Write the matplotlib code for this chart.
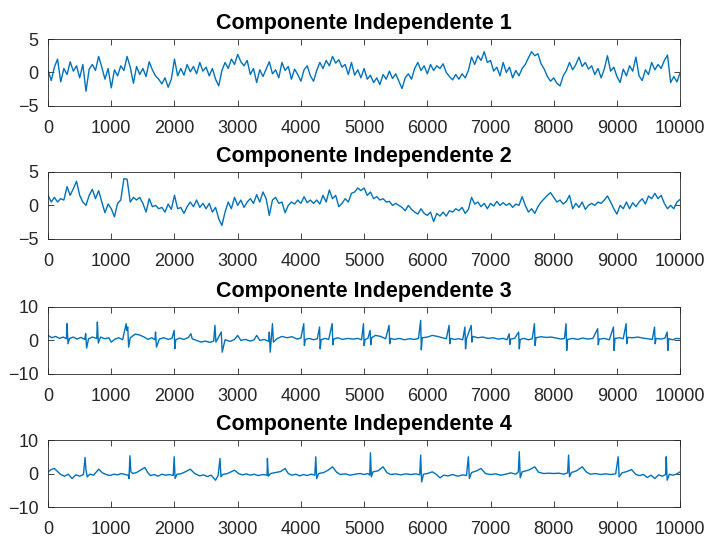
import numpy as np
import matplotlib
matplotlib.use('Agg')
import matplotlib.pyplot as plt

# Independent components, component 1 and 2 sampled every 50 points
step = 50
ic1 = [0.3, -1.2, 0.8, 2.0, -1.4, 0.6, -0.3, 1.6, 0.2, 1.0,
       -0.8, 1.2, -2.8, 0.5, 1.2, 0.3, 2.4, 0.8, -1.0, 0.6,
       -2.3, 0.4, -0.5, 1.0, 0.3, 2.4, 0.8, -1.6, 0.9, -0.3,
       0.6, -0.6, 1.6, 0.4, -0.5, -1.0, -1.7, -0.8, -2.2, -1.0,
       2.0, -0.5, 0.6, -0.4, 1.2, 0.1, 0.9, -0.2, 1.5, 0.2,
       0.8, -0.5, 0.6, -1.0, -2.0, 0.3, 1.5, 0.6, 2.0, 1.2,
       2.7, 1.6, 1.0, 1.8, -0.3, 0.6, -1.5, 0.4, -0.6, 0.5,
       1.6, -0.2, 0.4, -0.8, 1.5, 0.3, 0.9, -1.0, 0.5, -0.3,
       -1.3, 0.4, 1.0, -0.5, -1.3, 0.3, 1.5, 0.6, 1.8, 1.0,
       2.4, 1.4, 1.9, 0.8, 1.2, -0.3, 1.5, -0.4, 0.4, -0.8,
       0.6, -1.0, -0.4, -1.5, -0.8, -1.8, -0.3, -1.0, 0.2, -0.9,
       -0.2, -1.3, -2.4, -0.8, -0.2, -1.0, 0.6, 1.5, 0.3, 1.0,
       -0.2, 1.2, 0.3, 1.0, 0.6, 1.3, 0.0, -0.6, -1.1, -0.3,
       -1.0, -0.2, -0.8, 0.3, 2.3, 1.2, 2.5, 1.8, 3.1, 1.5,
       1.8, 0.2, 0.8, -0.5, 1.5, 0.0, 0.8, -0.8, 0.3, -0.5,
       0.6, 1.2, 2.2, 3.1, 2.5, 2.8, 1.3, 0.5, -0.6, -1.3,
       -0.8, -1.6, -2.0, -0.5, 0.3, 1.5, 0.4, 1.2, 2.3, 0.9,
       1.5, 0.5, 1.0, -0.3, 0.6, -0.8, 0.5, 2.5, 0.2, 0.8,
       -0.6, -1.5, 0.5, -0.5, 1.0, 0.2, 2.3, -0.5, -1.2, 0.4,
       -0.3, 1.5, 0.4, 1.2, 0.6, 1.8, 2.6, -1.5, -0.6, -1.4,
       0.0]

ic2 = [1.5, 0.5, 1.2, 0.5, 1.0, 0.8, 2.8, 1.5, 2.5, 3.6,
       1.5, 0.5, 0.0, 1.5, 2.4, 1.0, 2.2, 0.5, -1.1, 0.2,
       -0.5, -1.7, 0.3, 0.8, 4.0, 3.9, 0.5, 1.2, 0.8, 1.2,
       0.3, -1.0, 1.0, -0.2, 0.0, -0.5, -0.3, -1.0, 0.2, -0.6,
       1.5, -0.5, -0.3, -1.2, -0.2, 0.5, -0.2, 0.8, -0.3, 0.3,
       -0.5, 0.3, -1.0, -0.3, -2.0, -3.0, -1.0, 0.5, -0.5, 1.2,
       0.0, 0.8, -0.3, 0.5, 1.0, 0.3, 1.6, 0.5, 2.0, 1.0,
       -1.5, 0.8, 1.2, 0.3, 0.5, -1.1, 0.0, 0.5, 0.2, 0.8,
       0.3, 1.3, 0.4, 0.8, 0.3, 0.8, 0.2, 1.5, 0.5, 2.3,
       1.0, 1.5, -0.2, 0.3, 1.0, 0.5, 1.8, 2.0, 2.6, 2.2,
       2.6, 1.5, 2.0, 1.0, 1.3, 0.8, 1.0, 0.5, 0.6, 0.0,
       0.3, 0.0, -0.3, -0.8, 0.0, -0.6, -1.0, -1.3, -0.5, -1.2,
       -1.5, -1.0, -2.4, -1.2, -1.6, -1.0, -1.6, -0.8, -1.0, -0.5,
       -0.8, -0.3, -1.2, -0.6, 1.2, 0.2, 0.5, -0.2, 0.3, -0.5,
       0.3, -0.1, 0.6, 0.0, 0.4, 0.0, 0.3, -0.3, 0.2, 0.0,
       1.3, 0.0, -1.0, -0.5, -1.2, -0.2, 0.5, 1.0, 1.5, 1.9,
       1.2, 0.5, 0.8, 0.2, 0.6, 1.5, -0.5, 0.3, -0.3, 0.5,
       -0.6, 0.0, 0.3, 0.0, 0.5, 0.3, 0.8, 1.4, 0.5, -0.5,
       -1.3, 0.0, -0.5, 0.5, -0.5, 0.4, -0.2, 0.5, 1.0, 0.2,
       1.4, 1.0, 1.8, 1.0, 1.5, 0.3, -0.5, 0.0, -0.5, 0.5,
       0.9]

# Components 3 and 4: spiky signals, kept as (sample, value) breakpoints
ic3_t = [0, 60, 120, 180, 240, 290, 300, 315, 340, 400,
         460, 520, 580, 595, 610, 640, 700, 770, 780, 795,
         830, 900, 960, 1000, 1060, 1120, 1180, 1235, 1245, 1260,
         1275, 1300, 1380, 1450, 1520, 1580, 1640, 1690, 1700, 1715,
         1760, 1830, 1900, 1960, 1995, 2005, 2020, 2080, 2150, 2220,
         2260, 2280, 2350, 2420, 2490, 2560, 2620, 2640, 2655, 2740,
         2755, 2800, 2880, 2950, 3000, 3050, 3120, 3200, 3260, 3300,
         3350, 3420, 3490, 3500, 3515, 3550, 3565, 3620, 3700, 3780,
         3860, 3940, 4000, 4045, 4055, 4070, 4130, 4200, 4260, 4295,
         4305, 4320, 4380, 4440, 4495, 4505, 4520, 4580, 4660, 4740,
         4820, 4900, 4960, 4990, 5000, 5015, 5060, 5095, 5105, 5120,
         5180, 5260, 5340, 5395, 5405, 5420, 5480, 5560, 5640, 5720,
         5800, 5860, 5895, 5905, 5920, 6000, 6080, 6160, 6240, 6300,
         6345, 6355, 6370, 6430, 6500, 6560, 6595, 6605, 6620, 6695,
         6705, 6720, 6800, 6880, 6960, 7040, 7120, 7200, 7260, 7295,
         7305, 7320, 7380, 7445, 7455, 7470, 7530, 7600, 7660, 7695,
         7705, 7720, 7800, 7880, 7960, 8040, 8120, 8170, 8195, 8205,
         8220, 8300, 8380, 8460, 8540, 8620, 8695, 8705, 8720, 8800,
         8880, 8945, 8955, 8970, 9040, 9100, 9145, 9155, 9170, 9250,
         9330, 9410, 9490, 9560, 9595, 9605, 9620, 9700, 9760, 9795,
         9805, 9820, 9880, 9940, 10000]
ic3_v = [1.5, 0.8, 1.2, 0.6, 1.0, 0.5, 5.0, -1.0, 0.6, 1.0,
         0.4, 0.9, 0.3, 2.0, -2.3, 0.5, 1.0, 0.6, 5.5, -0.8,
         1.0, 0.5, 0.8, -0.5, 0.4, 0.8, 0.2, 5.0, 3.0, 4.0,
         -2.0, 0.8, 1.9, 1.6, 1.0, 0.3, 0.8, 0.2, 2.5, -2.0,
         0.4, 0.8, 0.3, 0.6, 3.0, -2.5, 0.2, 0.7, 0.3, 0.9,
         2.0, 0.5, 0.0, -0.5, -0.2, -0.6, -0.2, 4.5, -0.5, 2.5,
         -3.5, 0.2, -0.3, 0.3, 1.5, 0.0, 0.3, -0.2, 0.2, 1.5,
         0.0, 0.3, -0.3, 2.5, -3.5, 5.0, -0.5, 0.5, 1.2, 0.8,
         1.1, 0.4, 0.7, 5.0, -1.5, 0.3, 0.6, 0.2, 0.5, 4.0,
         -2.5, 0.2, 0.6, 0.3, 5.0, -1.3, 0.4, 0.8, 0.3, 0.6,
         0.4, 0.6, 0.2, 5.0, -1.5, 0.3, 0.6, 3.0, -1.3, 0.8,
         1.5, 1.2, 0.5, 4.5, -1.0, 0.6, 0.3, 0.6, 0.2, 0.5,
         0.3, 0.6, 6.0, -2.8, 0.8, 1.0, 1.5, 1.2, 0.8, 0.5,
         4.5, -1.0, 0.6, 0.3, 0.5, 0.2, 4.0, -2.5, 0.5, 4.5,
         -0.5, 1.2, 0.8, 1.0, 0.6, 0.8, 0.4, 0.6, 0.2, 2.0,
         -1.2, 0.4, 0.6, 2.5, -2.5, 0.3, 0.6, 0.2, 0.5, 5.0,
         -1.5, 0.8, 1.1, 0.9, 1.0, 0.7, 0.4, 0.6, 5.0, -3.0,
         0.3, 0.6, 0.3, 0.7, 0.4, 0.6, 3.5, -1.3, 0.4, 0.6,
         0.2, 4.0, -3.0, 0.6, 0.8, 0.5, 5.0, -1.0, 0.9, 0.8,
         1.0, 0.7, 0.5, 0.3, 4.0, -1.0, 0.6, 0.4, 0.7, 2.5,
         -3.0, 0.5, 0.2, 0.6, 0.5]

ic4_t = [0, 50, 100, 150, 200, 260, 320, 380, 440, 500,
         560, 585, 600, 620, 660, 720, 800, 860, 920, 980,
         1040, 1100, 1160, 1220, 1270, 1280, 1295, 1310, 1340, 1400,
         1460, 1530, 1580, 1620, 1680, 1740, 1800, 1860, 1920, 1980,
         1995, 2010, 2040, 2100, 2180, 2250, 2320, 2400, 2460, 2520,
         2580, 2650, 2690, 2720, 2735, 2760, 2840, 2950, 3020, 3080,
         3140, 3200, 3260, 3320, 3400, 3465, 3470, 3485, 3520, 3600,
         3680, 3750, 3800, 3860, 3920, 3980, 4040, 4100, 4160, 4220,
         4235, 4250, 4280, 4360, 4430, 4500, 4560, 4620, 4700, 4780,
         4860, 4940, 5000, 5060, 5090, 5100, 5115, 5140, 5220, 5300,
         5360, 5420, 5500, 5580, 5660, 5740, 5820, 5880, 5895, 5910,
         5940, 6000, 6080, 6140, 6200, 6260, 6330, 6400, 6480, 6560,
         6620, 6650, 6665, 6700, 6780, 6850, 6920, 7000, 7080, 7160,
         7240, 7320, 7400, 7440, 7455, 7470, 7500, 7600, 7700, 7760,
         7840, 7920, 8000, 8080, 8160, 8220, 8235, 8250, 8280, 8360,
         8450, 8520, 8580, 8660, 8740, 8820, 8900, 8980, 9020, 9035,
         9080, 9160, 9230, 9300, 9360, 9420, 9480, 9540, 9600, 9660,
         9720, 9770, 9780, 9795, 9830, 9880, 9940, 10000]
ic4_v = [0.5, 1.2, 1.5, 0.6, -0.3, -0.8, -0.2, -1.5, -0.4, -0.8,
         -0.3, 4.8, 1.0, -1.0, -0.2, -0.5, 1.3, 0.2, -0.3, -0.6,
         -0.2, -0.4, 0.0, -0.3, -0.5, -1.5, 5.3, 0.5, 0.0, 0.3,
         1.0, 1.8, 0.2, -0.6, -0.3, -0.8, -0.2, -0.5, -0.3, -0.6,
         5.0, -1.5, -0.2, -0.1, 0.6, 1.3, 0.0, -0.7, -0.4, -0.9,
         -0.5, -2.0, -0.6, 4.5, -1.0, -0.3, 0.0, 1.0, -0.1, -0.4,
         -0.1, -0.5, -0.2, -0.6, -0.3, -0.5, 4.5, -0.8, 0.0, 0.3,
         0.6, 1.5, 0.0, -0.5, -0.2, -0.7, -0.3, -0.6, -0.2, -0.5,
         5.0, -1.5, 0.0, 0.3, 1.0, 2.0, 0.5, -0.3, -0.1, -0.5,
         -0.2, 0.0, -0.3, 0.0, -0.5, 6.2, -1.0, 0.5, 0.8, 2.0,
         0.3, -0.3, -0.1, -0.4, -0.1, -0.3, -0.1, -0.4, 5.5, -2.5,
         -0.2, 0.0, 0.5, -0.2, -1.3, -0.5, -0.7, -0.3, -0.8, -0.4,
         -0.6, 5.0, -1.5, 0.3, 0.8, 1.5, 0.0, -0.3, -0.1, -0.5,
         -0.2, 0.2, -0.2, 0.5, 6.5, -1.3, 0.5, 1.0, 2.0, 0.4,
         0.0, 0.1, 0.0, 0.1, -0.2, 0.2, 5.5, -1.0, 0.3, 0.8,
         2.0, 0.4, -0.2, 0.0, -0.3, -0.1, -0.3, -0.1, 5.0, -1.0,
         0.2, 0.6, 1.2, -0.3, -0.6, -0.3, -1.2, -0.5, -1.5, -0.4,
         -0.8, -0.3, 5.0, -2.0, -0.2, -0.5, -0.2, 0.5]

titles = ['Componente Independente 1', 'Componente Independente 2',
          'Componente Independente 3', 'Componente Independente 4']
ylims = [5, 5, 10, 10]

t12 = np.arange(len(ic1)) * step
series = [(t12, ic1), (t12, ic2), (ic3_t, ic3_v), (ic4_t, ic4_v)]

plt.rcParams['font.family'] = ['Liberation Sans', 'DejaVu Sans']

fig = plt.figure(figsize=(7.07, 5.38), dpi=100)
bottoms = [0.803, 0.556, 0.305, 0.0576]

for i, (t, v) in enumerate(series):
    ax = fig.add_axes([0.068, bottoms[i], 0.894, 0.1245])
    ax.plot(t, v, color='#0072BD', linewidth=1.0)
    ax.set_xlim(0, 10000)
    ax.set_ylim(-ylims[i], ylims[i])
    ax.set_xticks(np.arange(0, 10001, 1000))
    ax.set_yticks([-ylims[i], 0, ylims[i]])
    ax.tick_params(direction='in', top=True, right=True, length=4,
                   width=0.6, colors='#262626', labelsize=13)
    ax.tick_params(axis='x', pad=10)
    ax.tick_params(axis='y', pad=7)
    for sp in ax.spines.values():
        sp.set_color('#262626')
        sp.set_linewidth(0.6)
    ax.set_title(titles[i], fontsize=15.5, fontweight='bold', pad=7)

fig.savefig('out.png', dpi=100)
